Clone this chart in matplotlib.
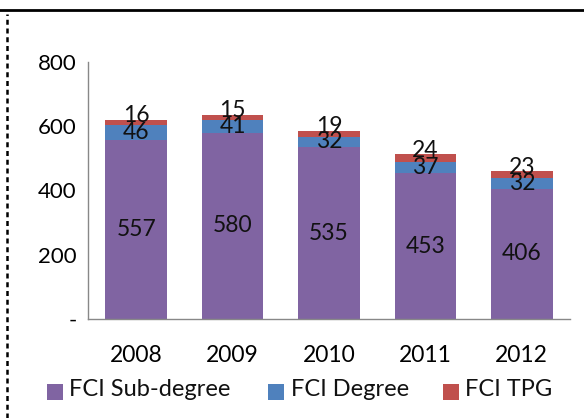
import matplotlib
matplotlib.use("Agg")
import matplotlib.pyplot as plt
from matplotlib.lines import Line2D
from matplotlib.patches import Rectangle

years = ["2008", "2009", "2010", "2011", "2012"]
sub_degree = [557, 580, 535, 453, 406]
degree = [46, 41, 32, 37, 32]
tpg = [16, 15, 19, 24, 23]
series_names = ["FCI Sub-degree", "FCI Degree", "FCI TPG"]
colors = ["#8064A2", "#4F81BD", "#C0504D"]
ytick_vals = [0, 200, 400, 600, 800]
ytick_labels = ["-", "200", "400", "600", "800"]

plt.rcParams["font.family"] = ["Lato", "DejaVu Sans"]

W, H = 584, 418
fig = plt.figure(figsize=(W/100, H/100), dpi=100)
ax = fig.add_axes([88/W, 1-319/H, (570-88)/W, (319-62)/H])

x = list(range(len(years)))
w = 0.64
bottoms = [0]*len(years)
series = [sub_degree, degree, tpg]
for vals, c, name in zip(series, colors, series_names):
    ax.bar(x, vals, w, bottom=bottoms, color=c, label=name, edgecolor="none")
    for xi, b, v in zip(x, bottoms, vals):
        yc = b + v/2
        if vals is tpg:
            yc += 22
        ax.text(xi, yc, str(v), ha="center", va="center", fontsize=16.5, color="#111111")
    bottoms = [b+v for b, v in zip(bottoms, vals)]

ax.set_xlim(-0.5, len(years)-0.5)
ax.set_ylim(0, 800)
ax.set_xticks(x)
ax.set_xticklabels(years, fontsize=16.5)
ax.set_yticks(ytick_vals)
ax.set_yticklabels(ytick_labels, fontsize=16)
ax.tick_params(axis="y", length=0, pad=8)
ax.tick_params(axis="x", length=0, pad=19)
for s in ["top", "right"]:
    ax.spines[s].set_visible(False)
for s in ["left", "bottom"]:
    ax.spines[s].set_color("#888888")
    ax.spines[s].set_linewidth(1)

# legend, placed entry by entry
leg_sq_x = [47, 268, 443]
leg_txt_x = [69, 291, 465]
for sx, tx, c, name in zip(leg_sq_x, leg_txt_x, colors, series_names):
    fig.add_artist(Rectangle((sx/W, 1-400/H), 16/W, 16/H, transform=fig.transFigure,
                             facecolor=c, edgecolor="none"))
    fig.text(tx/W, 1-396/H, name, ha="left", va="baseline", fontsize=17, color="#111111")

# frame lines
fig.add_artist(Line2D([0, 1], [1-10/H, 1-10/H], transform=fig.transFigure,
                      color="black", linewidth=2))
fig.add_artist(Line2D([7/W, 7/W], [0, 1-14/H], transform=fig.transFigure,
                      color="black", linewidth=1.8, linestyle=(0, (2, 1.5))))

fig.savefig("out.png", dpi=100)
